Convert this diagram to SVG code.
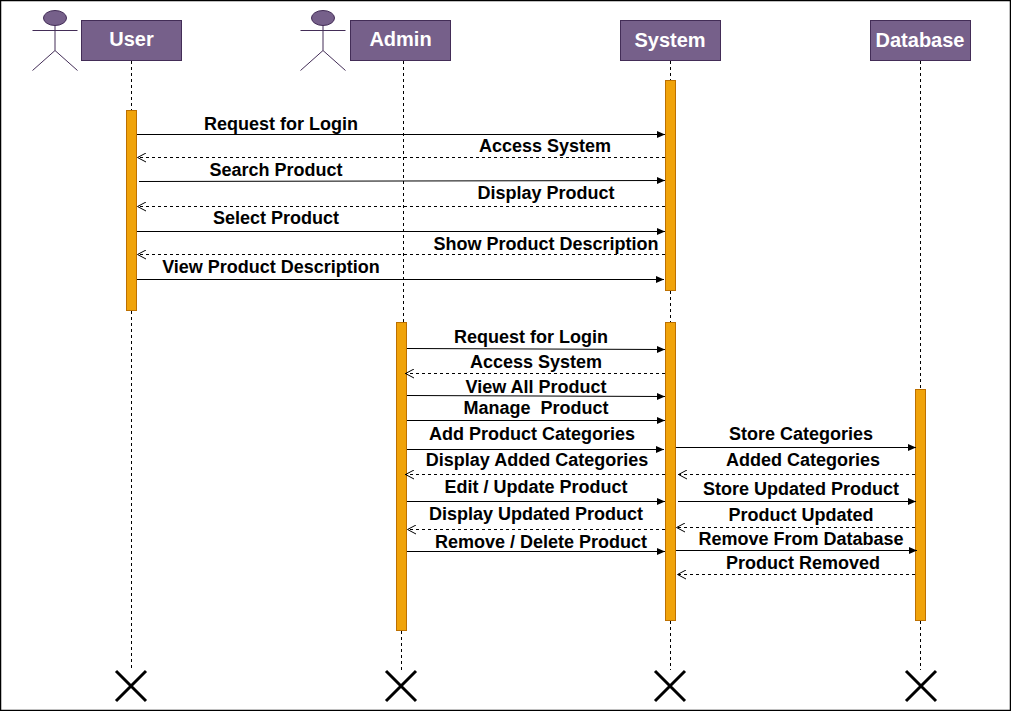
<svg xmlns="http://www.w3.org/2000/svg" width="1011" height="711" viewBox="0 0 1011 711">
<style>
text{font-family:"Liberation Sans",Arial,sans-serif;font-weight:bold;text-anchor:middle}
.m{font-size:18px;fill:#000}
.h{font-size:20px;fill:#fff}
.box{fill:#76608a;stroke:#432d57;stroke-width:1}
.act{fill:#f0a30a;stroke:#bd7000;stroke-width:1}
.life{stroke:#000;stroke-width:1;stroke-dasharray:3 3;fill:none}
.sync{stroke:#000;stroke-width:1;fill:none;marker-end:url(#solid)}
.ret{stroke:#000;stroke-width:1;stroke-dasharray:3 3;fill:none;marker-end:url(#open)}
.x{stroke:#000;stroke-width:3;fill:none}
.actor{fill:#76608a;stroke:#432d57;stroke-width:1}
.limb{fill:none;stroke:#432d57;stroke-width:1}
</style>
<defs>
<marker id="solid" markerUnits="userSpaceOnUse" markerWidth="9" markerHeight="8" refX="8" refY="4" orient="auto"><path d="M0 0.5L8 4L0 7.5Z" fill="#000"/></marker>
<marker id="open" markerUnits="userSpaceOnUse" markerWidth="11" markerHeight="10" refX="10" refY="5" orient="auto"><path d="M1 0.5L9.500 5L1 9.500" fill="none" stroke="#000"/></marker>
</defs>
<rect x="0.5" y="0.5" width="1010" height="710" fill="#fff" stroke="#000" stroke-width="1.5"/>
<g id="lifelines">
<path class="life" d="M131.500 61V110M131.500 311V670"/>
<path class="life" d="M403.500 61V322M401.500 631V670"/>
<path class="life" d="M670.500 61V80M670.500 291V322M670.500 621V670"/>
<path class="life" d="M920.500 61V389M920.500 621V670"/>
</g>
<g id="actor-user"><ellipse class="actor" cx="55" cy="18" rx="11.500" ry="7.500"/><path class="limb" d="M55 25.500V50.500M32.500 30.500H77.500M55 50.500L32.500 70.500M55 50.500L77.500 70.500"/></g>
<g id="actor-admin"><ellipse class="actor" cx="323" cy="18" rx="11.500" ry="7.500"/><path class="limb" d="M323 25.500V50.500M300.500 30.500H345.500M323 50.500L300.500 70.500M323 50.500L345.500 70.500"/></g>
<g id="user"><rect class="box" x="81.500" y="20.500" width="100" height="40"/><text class="h" x="131.500" y="46">User</text></g>
<g id="admin"><rect class="box" x="350.500" y="20.500" width="100" height="40"/><text class="h" x="400.500" y="46">Admin</text></g>
<g id="system"><rect class="box" x="620.500" y="20.500" width="100" height="40"/><text class="h" x="670" y="47">System</text></g>
<g id="database"><rect class="box" x="870.500" y="20.500" width="100" height="40"/><text class="h" x="920" y="47">Database</text></g>
<g id="activations">
<rect class="act" x="126.500" y="110.500" width="10" height="200"/>
<rect class="act" x="665.500" y="80.500" width="10" height="210"/>
<rect class="act" x="396.500" y="322.500" width="10" height="308"/>
<rect class="act" x="665.500" y="322.500" width="10" height="298"/>
<rect class="act" x="915.500" y="389.500" width="10" height="231"/>
</g>
<g id="connectors">
<path class="sync" d="M137 134.500H665"/>
<path class="ret" d="M665 157.500H137"/>
<path class="sync" d="M139 181.500L665 180.500"/>
<path class="ret" d="M665 206.500H137"/>
<path class="sync" d="M137 231.500H665"/>
<path class="ret" d="M665 254.500H137"/>
<path class="sync" d="M137 279.500H664"/>
<path class="sync" d="M407 348.500L665 349.500"/>
<path class="ret" d="M665 373.500H405"/>
<path class="sync" d="M407 395.500L665 396.500"/>
<path class="sync" d="M407 420.500H665"/>
<path class="sync" d="M407 449.500H664"/>
<path class="ret" d="M665 474.500H405"/>
<path class="sync" d="M407 501.500H665"/>
<path class="ret" d="M665 529.500H407"/>
<path class="sync" d="M407 551.500H665"/>
<path class="sync" d="M676 447.500H916"/>
<path class="ret" d="M915 474.500H678"/>
<path class="sync" d="M678 501.500H916"/>
<path class="ret" d="M915 527.500H676"/>
<path class="sync" d="M676 550.500H917"/>
<path class="ret" d="M915 574.500H677"/>
</g>
<g id="labels">
<text class="m" x="281" y="130">Request for Login</text>
<text class="m" x="545" y="152">Access System</text>
<text class="m" x="276" y="176">Search Product</text>
<text class="m" x="546" y="199">Display Product</text>
<text class="m" x="276" y="224">Select Product</text>
<text class="m" x="546" y="250">Show Product Description</text>
<text class="m" x="271" y="273">View Product Description</text>
<text class="m" x="531" y="343">Request for Login</text>
<text class="m" x="536" y="368">Access System</text>
<text class="m" x="536" y="393">View All Product</text>
<text class="m" x="536" y="414" xml:space="preserve">Manage  Product</text>
<text class="m" x="532" y="440">Add Product Categories</text>
<text class="m" x="537" y="466">Display Added Categories</text>
<text class="m" x="536" y="493">Edit / Update Product</text>
<text class="m" x="536" y="520">Display Updated Product</text>
<text class="m" x="541" y="548">Remove / Delete Product</text>
<text class="m" x="801" y="440">Store Categories</text>
<text class="m" x="803" y="466">Added Categories</text>
<text class="m" x="801" y="495">Store Updated Product</text>
<text class="m" x="801" y="521">Product Updated</text>
<text class="m" x="801" y="545">Remove From Database</text>
<text class="m" x="803" y="569">Product Removed</text>
</g>
<g id="terminators">
<path class="x" d="M116 671L146 701M146 671L116 701"/>
<path class="x" d="M386 671L416 701M416 671L386 701"/>
<path class="x" d="M655 671L685 701M685 671L655 701"/>
<path class="x" d="M906 671L936 701M936 671L906 701"/>
</g>
</svg>
